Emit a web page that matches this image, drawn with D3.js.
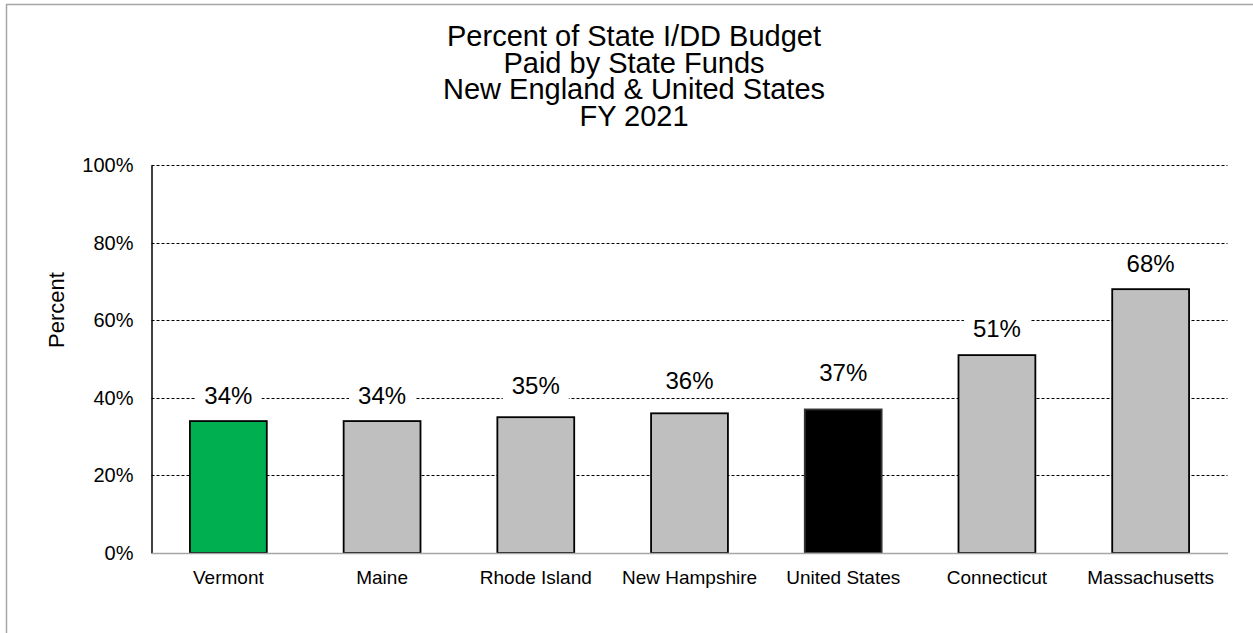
<!DOCTYPE html>
<html>
<head>
<meta charset="utf-8">
<script src="https://cdn.jsdelivr.net/npm/d3@7"></script>
<style>
  html, body { margin: 0; padding: 0; background: #fff; }
  svg { display: block; font-family: Arial, "Liberation Sans", sans-serif; }
</style>
</head>
<body>
<svg id="chart" width="1253" height="633"></svg>
<script>
// ---- data ----
const categories = ["Vermont", "Maine", "Rhode Island", "New Hampshire", "United States", "Connecticut", "Massachusetts"];
const values = [34, 34, 35, 36, 37, 51, 68];
const barColors = ["#00B050", "#BFBFBF", "#BFBFBF", "#BFBFBF", "#000000", "#BFBFBF", "#BFBFBF"];
const yTicks = [0, 20, 40, 60, 80, 100];
const titleLines = ["Percent of State I/DD Budget", "Paid by State Funds", "New England & United States", "FY 2021"];
const yAxisTitle = "Percent";

// ---- layout (pixels, not data) ----
const plot = { left: 151.5, right: 1227.5, top: 165, bottom: 553 };
const labelGap = [17, 17, 23, 24, 28, 18, 17.5];

const svg = d3.select("#chart");

// outer frame
svg.append("rect")
  .attr("x", 6.5).attr("y", 4.5).attr("width", 1400).attr("height", 800)
  .attr("fill", "#fff").attr("stroke", "#a6a6a6").attr("stroke-width", 1.5);

const x = d3.scaleBand().domain(categories).range([plot.left, plot.right]).paddingInner(0.5).paddingOuter(0.25);
const y = d3.scaleLinear().domain([0, 100]).range([plot.bottom, plot.top]);

// gridlines
svg.append("g").selectAll("line").data(yTicks.filter(d => d > 0)).join("line")
  .attr("x1", plot.left).attr("x2", plot.right)
  .attr("y1", d => Math.round(y(d)) + 0.5).attr("y2", d => Math.round(y(d)) + 0.5)
  .attr("stroke", "#000").attr("stroke-width", 1).attr("stroke-dasharray", "3,2");

// y axis
const yAxis = d3.axisLeft(y).tickValues(yTicks).tickFormat(d => d + "%").tickSize(0).tickPadding(18);
const gy = svg.append("g").attr("transform", `translate(${plot.left},0)`).call(yAxis);
gy.select(".domain").attr("stroke", "#000").attr("stroke-width", 1.5);
gy.selectAll("text").attr("font-size", 20).attr("fill", "#000").attr("font-family", "Arial, 'Liberation Sans', sans-serif");

// bars
svg.append("g").selectAll("rect").data(categories).join("rect")
  .attr("x", d => x(d))
  .attr("y", (d, i) => y(values[i]))
  .attr("width", x.bandwidth())
  .attr("height", (d, i) => y(0) - y(values[i]))
  .attr("fill", (d, i) => barColors[i])
  .attr("stroke", (d, i) => i === 4 ? "#333" : "#000")
  .attr("stroke-width", 1.8);

// x axis
const xAxis = d3.axisBottom(x).tickSize(0).tickPadding(18);
const gx = svg.append("g").attr("transform", `translate(0,${plot.bottom})`).call(xAxis);
gx.select(".domain").attr("stroke", "#a6a6a6").attr("stroke-width", 1.5);
gx.selectAll("text").attr("font-size", 19).attr("fill", "#000").attr("font-family", "Arial, 'Liberation Sans', sans-serif");

// data labels with white boxes
const lg = svg.append("g");
categories.forEach((c, i) => {
  const cx = x(c) + x.bandwidth() / 2;
  const by = y(values[i]) - labelGap[i];
  const t = lg.append("text")
    .attr("x", cx).attr("y", by)
    .attr("text-anchor", "middle")
    .attr("font-size", 24).attr("fill", "#000")
    .text(values[i] + "%");
  const bb = t.node().getBBox();
  lg.insert("rect", "text")
    .attr("x", bb.x - 9).attr("y", by - 22)
    .attr("width", bb.width + 18).attr("height", 28)
    .attr("fill", "#fff");
});

// title
svg.append("g").selectAll("text").data(titleLines).join("text")
  .attr("x", 634).attr("y", (d, i) => 46 + i * 26.7)
  .attr("text-anchor", "middle")
  .attr("font-size", 29).attr("fill", "#000")
  .text(d => d);

// y axis title
svg.append("text")
  .attr("transform", "translate(64,310) rotate(-90)")
  .attr("text-anchor", "middle")
  .attr("font-size", 22).attr("fill", "#000")
  .text(yAxisTitle);
</script>
</body>
</html>
